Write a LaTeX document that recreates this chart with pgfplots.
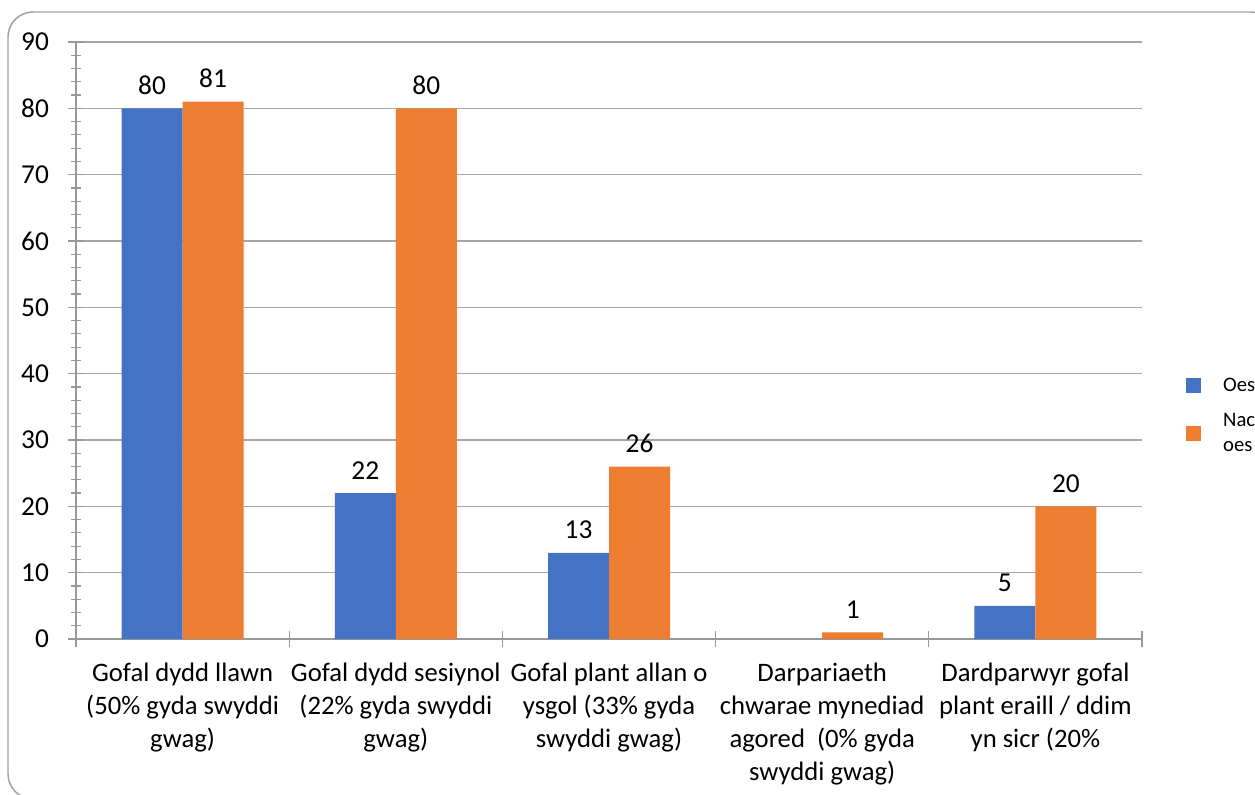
\documentclass[border=0pt]{standalone}
\usepackage{pgfplots}
\pgfplotsset{compat=1.18}
\usepackage{fontspec}
\setmainfont{Carlito}
\definecolor{oes}{HTML}{4472C4}
\definecolor{nac}{HTML}{ED7D31}
\definecolor{gridc}{HTML}{A6A6A6}
\definecolor{axisc}{HTML}{999999}
\definecolor{framec}{HTML}{A0A0A0}
\begin{document}
\begin{tikzpicture}
\path[use as bounding box] (-57pt,-116.25pt) rectangle (884.25pt,479.25pt);
\begin{axis}[
  at={(0pt,0pt)}, anchor=south west,
  scale only axis, width=799.5pt, height=447.75pt,
  ymin=0, ymax=90, xmin=0.5, xmax=5.5,
  ytick={0,10,...,90}, minor y tick num=4,
  xtick={0.5,1.5,2.5,3.5,4.5,5.5},
  x tick label as interval,
  xticklabels={{Gofal dydd llawn\\(50\% gyda swyddi\\gwag)},
               {Gofal dydd sesiynol\\(22\% gyda swyddi\\gwag)},
               {Gofal plant allan o\\ysgol (33\% gyda\\swyddi gwag)},
               {Darpariaeth\\chwarae mynediad\\agored\ \ (0\% gyda\\swyddi gwag)},
               {Dardparwyr gofal\\plant eraill / ddim\\yn sicr (20\%}},
  ybar=0pt, bar width=45.75pt,
  axis x line*=bottom, axis y line*=left,
  axis line style={draw=axisc, line width=0.9pt, -},
  ymajorgrids, grid style={draw=gridc, line width=0.8pt},
  tick align=center, major tick length=11.5pt, minor tick length=7.5pt,
  tick style={draw=axisc, line width=0.9pt},
  /pgf/number format/assume math mode=true,
  yticklabel style={font=\fontsize{20.5}{25}\selectfont, anchor=east, xshift=-11pt},
  xticklabel style={font=\fontsize{20}{24.75}\selectfont, align=center, anchor=north, yshift=-8.5pt},
  nodes near coords,
  every node near coord/.append style={font=\fontsize{20.5}{25}\selectfont, text=black, yshift=7pt},
  legend style={at={(1.0375,0.447)}, anchor=north west, draw=none, fill=none,
    font=\fontsize{15.5}{18.75}\selectfont, cells={anchor=west, align=left},
    row sep=11pt},
]
\addplot[fill=oes, draw=none, legend image code/.code={\fill[oes] (0pt,-5.6pt) rectangle (11.25pt,5.6pt); \node[draw=none, fill=none, inner sep=0pt, minimum width=25.5pt, minimum height=1pt, anchor=west] at (0pt,0pt) {};}]
  coordinates {(1,80) (2,22) (3,13) (5,5)};
\addlegendentry{Oes}
\addplot[fill=nac, draw=none, legend image code/.code={\fill[nac] (0pt,-5.6pt) rectangle (11.25pt,5.6pt); \node[draw=none, fill=none, inner sep=0pt, minimum width=25.5pt, minimum height=1pt, anchor=west] at (0pt,0pt) {};}]
  coordinates {(1,81) (2,80) (3,26) (4,1) (5,20)};
\addlegendentry{Nac\\oes}
\end{axis}
\begin{scope}
\clip (-57pt,-116.25pt) rectangle (884.25pt,479.25pt);
\draw[framec, line width=1.1pt, rounded corners=18.75pt] (-51pt,470.25pt) rectangle (900pt,-120pt);
\end{scope}
\end{tikzpicture}
\end{document}
